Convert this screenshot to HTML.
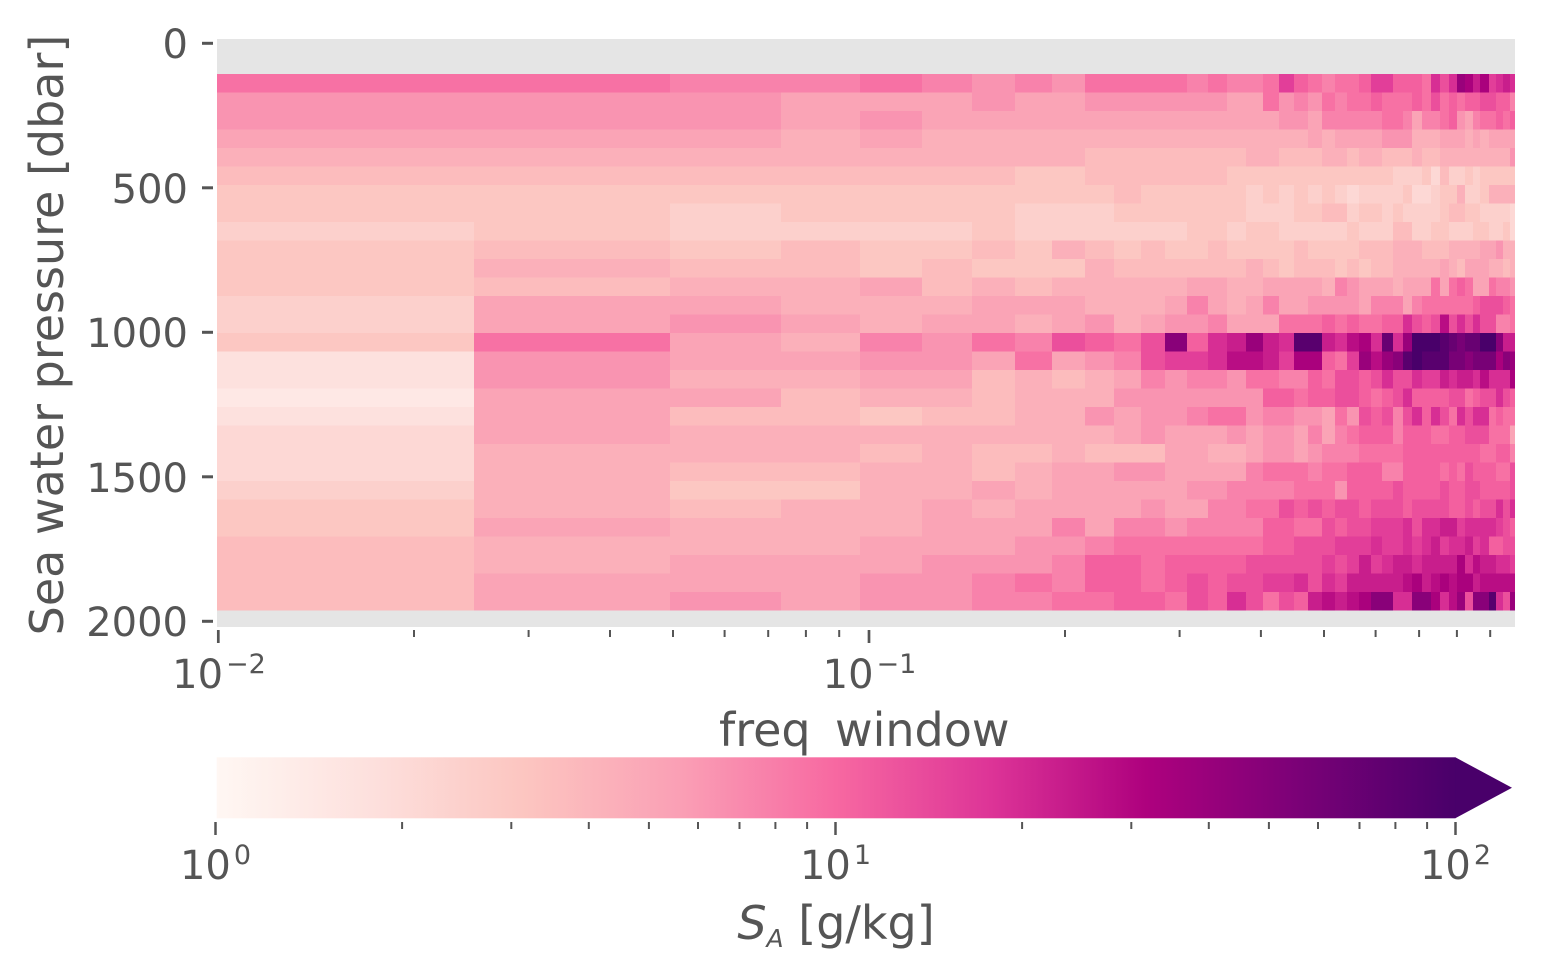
<!DOCTYPE html>
<html>
<head>
<meta charset="utf-8">
<style>
html,body{margin:0;padding:0;background:#fff;}
svg{display:block;}
text{font-family:"DejaVu Sans","Liberation Sans",sans-serif;fill:#555555;}
</style>
</head>
<body>
<svg id="chart" xmlns="http://www.w3.org/2000/svg" width="1544" height="980" viewBox="0 0 1544 980">
<defs>
<linearGradient id="cbg" x1="0" x2="1" y1="0" y2="0">
<stop offset="0" stop-color="#fff7f3"/>
<stop offset="0.125" stop-color="#fde0dd"/>
<stop offset="0.25" stop-color="#fcc5c0"/>
<stop offset="0.375" stop-color="#fa9fb5"/>
<stop offset="0.5" stop-color="#f768a1"/>
<stop offset="0.625" stop-color="#dd3497"/>
<stop offset="0.75" stop-color="#ae017e"/>
<stop offset="0.875" stop-color="#7a0177"/>
<stop offset="1" stop-color="#49006a"/>
</linearGradient>
</defs>
<rect x="0" y="0" width="1544" height="980" fill="#ffffff"/>
<!-- axes background -->
<rect x="217" y="39" width="1298" height="588" fill="#e5e5e5"/>
<g id="hm" shape-rendering="crispEdges"></g>

<!-- y ticks -->
<g stroke="#555555" stroke-width="3">
<line x1="202" y1="43.3" x2="213" y2="43.3"/>
<line x1="202" y1="187.8" x2="213" y2="187.8"/>
<line x1="202" y1="332.3" x2="213" y2="332.3"/>
<line x1="202" y1="476.8" x2="213" y2="476.8"/>
<line x1="202" y1="621.3" x2="213" y2="621.3"/>
</g>
<g font-size="40" text-anchor="end">
<text x="188" y="58">0</text>
<text x="188" y="203">500</text>
<text x="188" y="347">1000</text>
<text x="188" y="492">1500</text>
<text x="188" y="636">2000</text>
</g>

<!-- x ticks -->
<g stroke="#555555" stroke-width="2.7">
<line x1="218.3" y1="630" x2="218.3" y2="643"/>
<line x1="869" y1="630" x2="869" y2="643"/>
</g>
<g stroke="#555555" stroke-width="2">
<line x1="414" y1="630" x2="414" y2="637"/>
<line x1="528.6" y1="630" x2="528.6" y2="637"/>
<line x1="610" y1="630" x2="610" y2="637"/>
<line x1="673" y1="630" x2="673" y2="637"/>
<line x1="724.6" y1="630" x2="724.6" y2="637"/>
<line x1="768.2" y1="630" x2="768.2" y2="637"/>
<line x1="805.9" y1="630" x2="805.9" y2="637"/>
<line x1="839.2" y1="630" x2="839.2" y2="637"/>
<line x1="1065" y1="630" x2="1065" y2="637"/>
<line x1="1179.6" y1="630" x2="1179.6" y2="637"/>
<line x1="1260.9" y1="630" x2="1260.9" y2="637"/>
<line x1="1324" y1="630" x2="1324" y2="637"/>
<line x1="1375.6" y1="630" x2="1375.6" y2="637"/>
<line x1="1419.1" y1="630" x2="1419.1" y2="637"/>
<line x1="1456.9" y1="630" x2="1456.9" y2="637"/>
<line x1="1490.2" y1="630" x2="1490.2" y2="637"/>
</g>
<text x="219" y="688" font-size="40" text-anchor="middle">10<tspan font-size="27" dx="3" dy="-15">−2</tspan></text>
<text x="869.5" y="688" font-size="40" text-anchor="middle">10<tspan font-size="27" dx="3" dy="-15">−1</tspan></text>

<!-- axis labels -->
<text x="719" y="746" font-size="46">freq</text>
<text x="835" y="746" font-size="46">window</text>
<text transform="translate(63,335) rotate(-90)" font-size="46" text-anchor="middle">Sea water pressure [dbar]</text>

<!-- colorbar -->
<rect x="216.7" y="757.3" width="1238.8" height="61" fill="url(#cbg)"/>
<polygon points="1455.3,757.3 1512,787.8 1455.3,818.3" fill="#49006a"/>
<g stroke="#555555" stroke-width="2.5">
<line x1="215.5" y1="822" x2="215.5" y2="835"/>
<line x1="835.5" y1="822" x2="835.5" y2="835"/>
<line x1="1455.5" y1="822" x2="1455.5" y2="835"/>
</g>
<g stroke="#555555" stroke-width="2">
<line x1="402.1" y1="822" x2="402.1" y2="829"/>
<line x1="511.3" y1="822" x2="511.3" y2="829"/>
<line x1="588.8" y1="822" x2="588.8" y2="829"/>
<line x1="648.9" y1="822" x2="648.9" y2="829"/>
<line x1="698" y1="822" x2="698" y2="829"/>
<line x1="739.5" y1="822" x2="739.5" y2="829"/>
<line x1="775.4" y1="822" x2="775.4" y2="829"/>
<line x1="807.1" y1="822" x2="807.1" y2="829"/>
<line x1="1022.1" y1="822" x2="1022.1" y2="829"/>
<line x1="1131.3" y1="822" x2="1131.3" y2="829"/>
<line x1="1208.8" y1="822" x2="1208.8" y2="829"/>
<line x1="1268.9" y1="822" x2="1268.9" y2="829"/>
<line x1="1318" y1="822" x2="1318" y2="829"/>
<line x1="1359.5" y1="822" x2="1359.5" y2="829"/>
<line x1="1395.4" y1="822" x2="1395.4" y2="829"/>
<line x1="1427.1" y1="822" x2="1427.1" y2="829"/>
</g>
<text x="215.5" y="879" font-size="40" text-anchor="middle">10<tspan font-size="27" dx="3" dy="-15">0</tspan></text>
<text x="835.5" y="879" font-size="40" text-anchor="middle">10<tspan font-size="27" dx="3" dy="-15">1</tspan></text>
<text x="1455.5" y="879" font-size="40" text-anchor="middle">10<tspan font-size="27" dx="3" dy="-15">2</tspan></text>
<text x="836" y="939" font-size="46" text-anchor="middle"><tspan font-style="italic">S</tspan><tspan font-size="25" font-style="italic" dy="8">A</tspan><tspan dy="-8"> [g/kg]</tspan></text>
</svg>
<script>
(function(){
var E=[217,474,670,781,860,922,972,1015,1052,1085,1114,1141,1165,1187,1208,1227,1246,1263,1279,1294,1308,1322,1335,1347,1359,1371,1382,1393,1403,1412,1422,1431,1440,1449,1457,1465,1473,1480,1489,1496,1503,1510,1515];
var R=[
"mmllmlklkm"+"mmmlmllmpn"+"mlmmnppnnn"+"mqoqutrtpq"+"rq",
"kkkjjjkjjk"+"kkkkkjjmkl"+"kmlmmnmmmn"+"momnmnnoon"+"nl",
"kkkjkjjjjj"+"jjjjjjjjkk"+"jlllllmmlj"+"llmnkjlmmn"+"mn",
"jjjijiiiii"+"iiiiiiiiii"+"jijjjjkkki"+"iijjjijijj"+"jj",
"iiiiiiiiih"+"hhhhhhiihh"+"hiihiihhhi"+"hhiiiiiiii"+"ik",
"hhhhhhhggh"+"hhhhhggggg"+"gggggggfff"+"gehffgfggg"+"gg",
"gggggggggg"+"hgggggfgfg"+"fgfeffffge"+"efggiffgii"+"ii",
"ggfggggfff"+"ggggggfffg"+"ghhfggfgff"+"ffghhggfff"+"fe",
"fgffffgfff"+"fffggfggff"+"fffgfffhhf"+"fggfffggff"+"ge",
"ghghgghgih"+"ghgghggggh"+"gggghhhiii"+"hhhiiiijjk"+"ii",
"gihhghgggi"+"hhhhhhihgh"+"hhghghhiii"+"iijihjjjii"+"hi",
"ghiijhihii"+"iiijjiijjj"+"jilkjjjijj"+"jmjmnmjjml"+"lk",
"fjjiiijjji"+"iijljijljj"+"kkkkjllljl"+"mmmmmmnooo"+"nm",
"fjkjijjijk"+"ijkkljjjmm"+"mnmnmmnnqo"+"nosoqoqool"+"lm",
"gmjilkmlon"+"movnqrurqy"+"yrqstqxquz"+"zzyxwxxzzv"+"rr",
"dkjjkkjmjk"+"loppqssrpt"+"tnmpusuvyz"+"yyywwvwwwt"+"vu",
"dkiijjhihi"+"jlkllkmmll"+"nmoonoqooq"+"pprqrrqsqq"+"qt",
"cjjhiihiii"+"kkkkkkknnm"+"nnoonmnoqn"+"nnnoomnooq"+"on",
"djhhghhiik"+"jkklmmkllk"+"kjmkonoloq"+"nqomqoqqmn"+"mm",
"ejiiiiiiii"+"jkjjjkjkkj"+"ljlmnnnlnn"+"nmmnnooomm"+"mj",
"eiiihihhih"+"hhjjiijkkj"+"klllmmmmnn"+"nnnnnnnmmn"+"nl",
"eihhiihijj"+"kkjjjjlmmm"+"lmmnnnllnn"+"nnmnmonnnm"+"mo",
"figgiijijj"+"jjjkkllllm"+"mmknnnnonn"+"nnonnoonnn"+"no",
"gihiijijjj"+"jkjjllmmon"+"onoonooono"+"ooonnonooq"+"oq",
"gjiiijjjlj"+"llkllllnnm"+"monoopppqo"+"qqrrpqqqqp"+"on",
"hiiijjjkkl"+"mmmmmmmnno"+"oopppqppqp"+"qrpqqrpqnn"+"oo",
"hijjjkkkln"+"nmnnnnoooo"+"opoprpqrrq"+"rrrrtqsrrq"+"qp",
"hjjjkklmln"+"nmnonooppq"+"oqprrrrrst"+"rststtrsss"+"ss",
"hjkjkkllmm"+"nnmonqomon"+"rsrstvvqqv"+"vtqsuovvyq"+"ou"
];
var C=[[255,247,243],[253,224,221],[252,197,192],[250,159,181],[247,104,161],[221,52,151],[174,1,126],[122,1,119],[73,0,106]];
function cm(t){
  if(t<0)t=0; if(t>1)t=1;
  var s=t*8, i=Math.floor(s); if(i>7)i=7; var f=s-i;
  var a=C[i], b=C[i+1];
  return 'rgb('+Math.round(a[0]+(b[0]-a[0])*f)+','+Math.round(a[1]+(b[1]-a[1])*f)+','+Math.round(a[2]+(b[2]-a[2])*f)+')';
}
var g=document.getElementById('hm');
var ns='http://www.w3.org/2000/svg';
var y0=74, h=18.5;
for(var r=0;r<R.length;r++){
  var row=R[r];
  for(var c=0;c<42;c++){
    var ch=row.charCodeAt(c)-97;
    if(isNaN(ch)) continue;
    var t=ch/25;
    var x=E[c], w=E[c+1]-E[c]+(c<41?0.6:0);
    var y=y0+r*h, hh=h+(r<R.length-1?0.6:0);
    var el=document.createElementNS(ns,'rect');
    el.setAttribute('x',x); el.setAttribute('y',y);
    el.setAttribute('width',w); el.setAttribute('height',hh);
    el.setAttribute('fill',cm(t));
    g.appendChild(el);
  }
}
})();
</script>
</body>
</html>
